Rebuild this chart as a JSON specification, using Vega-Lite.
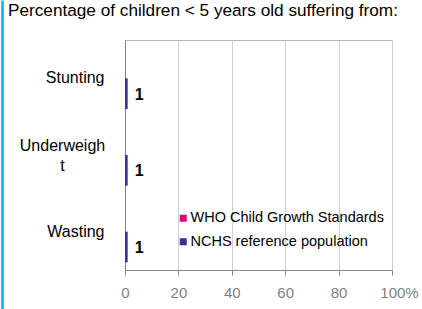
{
  "$schema": "https://vega.github.io/schema/vega-lite/v6.json",
  "autosize": "none",
  "width": 267,
  "height": 230,
  "padding": {"left": 125, "top": 40, "right": 30, "bottom": 39},
  "background": "white",
  "title": {
    "text": "Percentage of children < 5 years old suffering from:",
    "anchor": "start",
    "frame": "group",
    "dx": -117,
    "offset": 20.5,
    "fontSize": 17.2,
    "fontWeight": "normal",
    "font": "Liberation Sans",
    "color": "black"
  },
  "config": {
    "font": "Liberation Sans",
    "view": {"stroke": "#B4B4B4", "strokeWidth": 1}
  },
  "data": {
    "values": [
      {"category": "Stunting", "series": "WHO Child Growth Standards", "value": null},
      {"category": "Stunting", "series": "NCHS reference population", "value": 1},
      {"category": "Underweight", "series": "WHO Child Growth Standards", "value": null},
      {"category": "Underweight", "series": "NCHS reference population", "value": 1},
      {"category": "Wasting", "series": "WHO Child Growth Standards", "value": null},
      {"category": "Wasting", "series": "NCHS reference population", "value": 1}
    ]
  },
  "resolve": {"scale": {"y": "independent"}, "axis": {"y": "independent"}},
  "layer": [
    {
      "layer": [
        {
          "mark": {"type": "bar"},
          "encoding": {
            "y": {
              "field": "category",
              "type": "nominal",
              "sort": ["Stunting", "Underweight", "Wasting"],
              "scale": {"paddingInner": 0.2, "paddingOuter": 0.1},
              "axis": {
                "title": null,
                "ticks": false,
                "domainColor": "#868686",
                "labelColor": "black",
                "labelFontSize": 16,
                "labelLineHeight": 20,
                "labelExpr": "datum.value == 'Underweight' ? ['Underweigh', 't'] : datum.label",
                "labelAlign": {"condition": {"test": "datum.value == 'Underweight'", "value": "center"}, "value": "right"},
                "labelPadding": {"condition": {"test": "datum.value == 'Underweight'", "value": 63}, "value": 21},
                "labelOffset": {"condition": {"test": "datum.value == 'Underweight'", "value": -9}, "value": 0},
                "labelBound": false,
                "labelOverlap": false,
                "labelLimit": 200
              }
            },
            "yOffset": {
              "field": "series",
              "type": "nominal",
              "scale": {"domain": ["WHO Child Growth Standards", "NCHS reference population"]}
            },
            "x": {
              "field": "value",
              "type": "quantitative",
              "scale": {"domain": [0, 100], "nice": false},
              "axis": {
                "title": null,
                "values": [0, 20, 40, 60, 80, 100],
                "labelExpr": "datum.value == 100 ? '100%' : datum.label",
                "labelOffset": {"condition": {"test": "datum.value == 100", "value": 7}, "value": 0},
                "labelColor": "#7F7F7F",
                "labelFontSize": 15,
                "labelPadding": 10,
                "tickSize": 5,
                "tickColor": "#868686",
                "domainColor": "#868686",
                "gridColor": "#D0D0D0",
                "labelFlush": false,
                "labelOverlap": false
              }
            },
            "color": {
              "field": "series",
              "type": "nominal",
              "scale": {
                "domain": ["WHO Child Growth Standards", "NCHS reference population"],
                "range": ["#E6007E", "#333399"]
              },
              "legend": {
                "title": null,
                "orient": "none",
                "legendX": 51,
                "legendY": 171,
                "symbolType": "square",
                "symbolSize": 49,
                "symbolStrokeWidth": 0,
                "labelFontSize": 14.5,
                "labelColor": "black",
                "labelOffset": 0,
                "labelLimit": 300,
                "rowPadding": 8.5
              }
            }
          }
        },
        {
          "mark": {"type": "text", "align": "left", "baseline": "middle", "dx": 7, "dy": 1, "fontSize": 16, "fontWeight": "bold", "color": "black"},
          "encoding": {
            "y": {"field": "category", "type": "nominal", "sort": ["Stunting", "Underweight", "Wasting"]},
            "yOffset": {"field": "series", "type": "nominal"},
            "x": {"field": "value", "type": "quantitative"},
            "text": {"field": "value", "type": "quantitative"}
          }
        }
      ]
    },
    {
      "mark": {"type": "rule", "opacity": 0},
      "encoding": {
        "y": {
          "datum": 0,
          "type": "quantitative",
          "scale": {"domain": [0, 1], "range": [270, -40]},
          "axis": {
            "orient": "left",
            "offset": 123,
            "domainColor": "#00B0F0",
            "domainWidth": 2.5,
            "ticks": false,
            "labels": false,
            "grid": false,
            "title": null
          }
        }
      }
    }
  ]
}
